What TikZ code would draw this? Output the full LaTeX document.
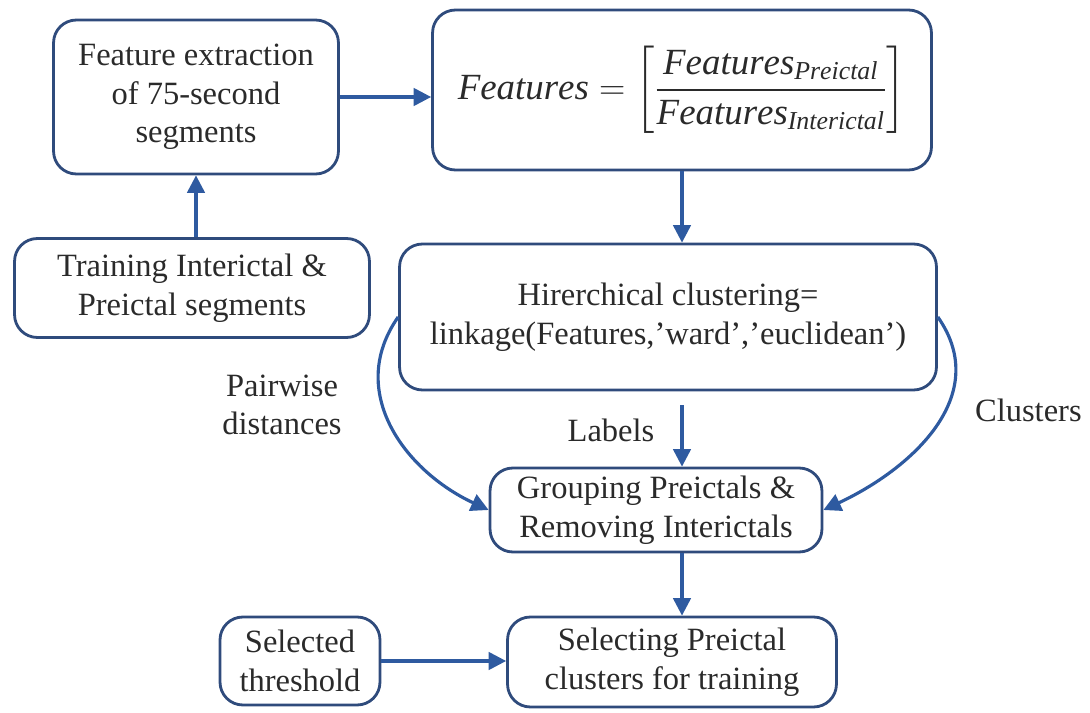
\documentclass[tikz,border=0pt]{standalone}
\usepackage{amsmath}
\usepackage{fontspec}
\setmainfont{Liberation Serif}
\usepackage{tikz}
\usetikzlibrary{arrows.meta}
\definecolor{boxblue}{HTML}{2F4B7C}
\definecolor{arrowblue}{HTML}{2E5AA0}
\definecolor{textgrey}{HTML}{2A2A2A}

\begin{document}
\begin{tikzpicture}[x=0.02cm, y=-0.02cm,
                    box/.style = {draw=boxblue, line width=1.6pt, rounded corners=13pt, align=center, inner sep=2pt, text=textgrey, font=\fontsize{18.5}{22}\selectfont},
                    lbl/.style = {align=center, inner sep=1pt, text=textgrey, font=\fontsize{18.5}{22}\selectfont},
                    arr/.style = {draw=arrowblue, line width=1.8pt, -{Triangle[length=10pt, width=10pt]}}
                ]
                    \useasboundingbox (0,0) rectangle (1090,713);

                    \node[box, minimum width=5.7cm, minimum height=3.08cm] (extract) at (196,97) {Feature extraction\\of 75-second\\segments};
                    \node[box, minimum width=9.98cm, minimum height=3.2cm, font=\fontsize{21}{25}\selectfont] (feat) at (682,90) {$\mathit{Features}=\left[\dfrac{\mathit{Features}_{\mathit{Preictal}}}{\mathit{Features}_{\mathit{Interictal}}}\right]$};
                    \node[box, minimum width=7.1cm, minimum height=1.98cm] (train) at (192,288) {Training Interictal \&\\Preictal segments};
                    \node[box, minimum width=10.74cm, minimum height=2.92cm] (hier) at (668,317) {Hirerchical clustering=\\linkage(Features,'ward','euclidean')};
                    \node[box, minimum width=6.64cm, minimum height=1.68cm] (group) at (656,510) {Grouping Preictals \&\\Removing Interictals};
                    \node[box, minimum width=3.2cm, minimum height=1.76cm] (thresh) at (300,661) {Selected\\threshold};
                    \node[box, minimum width=6.58cm, minimum height=1.8cm] (select) at (672,662) {Selecting Preictal\\clusters for training};

                    \node[lbl] (pairlbl) at (282,405) {Pairwise\\distances};
                    \node[lbl] (labellbl) at (611,430) {Labels};
                    \node[lbl, anchor=west] (clustlbl) at (973,410) {Clusters};

                    \draw[arr] (extract.east) -- (extract.east -| feat.west);
                    \draw[arr] (extract.south |- train.north) -- (extract.south);
                    \draw[arr] (feat.south) -- (feat.south |- hier.north);
                    \draw[arr, shorten <=8pt] (feat.south |- hier.south) -- (feat.south |- group.north);
                    \draw[arr] (feat.south |- group.south) -- (feat.south |- select.north);
                    \draw[arr] (thresh.east) -- (thresh.east -| select.west);
                    \draw[arr] (hier.west) to[out=235, in=155, looseness=1.1] (group.west);
                    \draw[arr] (hier.east) to[out=-55, in=25, looseness=1.1] (group.east);
                \end{tikzpicture}
\end{document}
